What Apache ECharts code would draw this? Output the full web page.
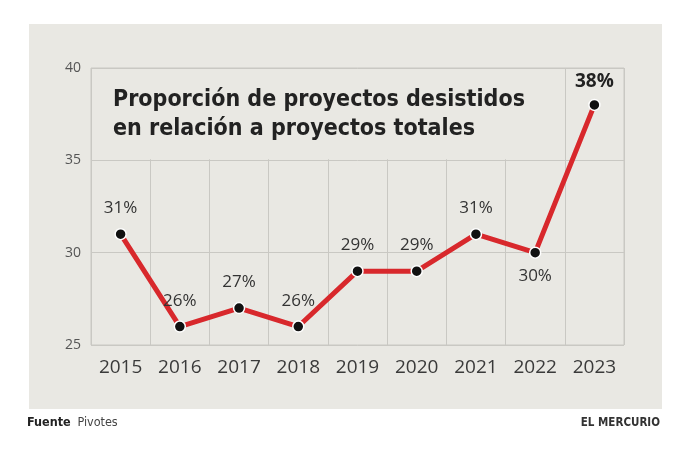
<!DOCTYPE html>
<html>
<head>
<meta charset="utf-8">
<script src="https://cdn.jsdelivr.net/npm/echarts@6/dist/echarts.min.js"></script>
<style>
  html, body { margin: 0; padding: 0; background: #fff; }
  #chart { width: 688px; height: 452px; }
</style>
</head>
<body>
<div id="chart"></div>
<script>
const years = ["2015", "2016", "2017", "2018", "2019", "2020", "2021", "2022", "2023"];
const shares = [31, 26, 27, 26, 29, 29, 31, 30, 38];
const belowLabels = ["2022"];
const boldLabels = ["2023"];
const yTicks = [25, 30, 35, 40];

const chart = echarts.init(document.getElementById("chart"));

const seriesData = years.map((y, i) => {
  const item = { value: shares[i] };
  if (belowLabels.includes(y)) item.label = { position: "bottom", distance: 9 };
  if (boldLabels.includes(y)) item.label = { fontWeight: "bold", fontSize: 19, color: "#222", distance: 8 };
  return item;
});

const cond = "'DejaVu Sans Condensed', 'Liberation Sans Narrow', sans-serif";

const option = {
  animation: false,
  backgroundColor: "#fff",
  grid: {
    left: 91, right: 64, top: 68, bottom: 107,
    show: true, borderColor: "#c9c8c3", borderWidth: 1, backgroundColor: "transparent"
  },
  graphic: [
    { type: "rect", z: -10, shape: { x: 29, y: 24, width: 633, height: 385 }, style: { fill: "#e9e8e3" } },
    {
      type: "text", left: 113, top: 86, z: 10,
      style: {
        text: "Proporción de proyectos desistidos\nen relación a proyectos totales",
        font: "bold 23px " + cond,
        fill: "#222", lineHeight: 29
      }
    },
    {
      type: "text", left: 27, top: 416,
      style: {
        rich: {
          b: { font: "bold 12.5px " + cond, fill: "#222" },
          r: { font: "12.5px " + cond, fill: "#444" }
        },
        text: "{b|Fuente}  {r|Pivotes}"
      }
    },
    {
      type: "text", right: 28, top: 417,
      style: { text: "EL MERCURIO", font: "bold 11.5px " + cond, fill: "#333" }
    }
  ],
  xAxis: {
    type: "category",
    data: years,
    boundaryGap: true,
    axisLine: { show: false },
    axisTick: { show: false },
    axisLabel: { color: "#3a3a3a", fontSize: 19, fontFamily: "'Open Sans', sans-serif", margin: 13 },
    splitLine: { show: true, lineStyle: { color: "#c9c8c3", width: 1 } }
  },
  yAxis: {
    type: "value",
    min: 25, max: 40, interval: 5,
    axisLine: { show: false },
    axisTick: { show: false },
    axisLabel: {
      color: "#555", fontSize: 14, fontFamily: "'Open Sans', sans-serif", margin: 10,
      formatter: v => (yTicks.includes(v) ? String(v) : "")
    },
    splitLine: { show: true, lineStyle: { color: "#c9c8c3", width: 1 } }
  },
  series: [{
    type: "line",
    data: seriesData,
    z: 20,
    lineStyle: { color: "#d8282c", width: 5 },
    symbol: "circle",
    symbolSize: 11,
    itemStyle: { color: "#111", borderColor: "#fff", borderWidth: 1.5 },
    label: {
      show: true, position: "top", distance: 11,
      formatter: p => p.value + "%",
      color: "#333", fontSize: 17, fontFamily: "'Open Sans', sans-serif"
    }
  }]
};

chart.setOption(option);

// box behind the title hides the grid under it (from left edge to the 2022/2023 border, 40 down to 35)
const half = (chart.convertToPixel({ xAxisIndex: 0 }, "2016") - chart.convertToPixel({ xAxisIndex: 0 }, "2015")) / 2;
const x0 = chart.convertToPixel({ xAxisIndex: 0 }, "2015") - half;
const x1 = chart.convertToPixel({ xAxisIndex: 0 }, "2022") + half;
const y0 = chart.convertToPixel({ yAxisIndex: 0 }, 40);
const y1 = chart.convertToPixel({ yAxisIndex: 0 }, 35);
chart.setOption({
  graphic: [{
    id: "titleBox", type: "rect", z: 5,
    shape: { x: x0 + 1, y: y0 + 1, width: x1 - x0 - 2, height: y1 - y0 - 2 },
    style: { fill: "#e9e8e3" }
  }]
});
</script>
</body>
</html>
